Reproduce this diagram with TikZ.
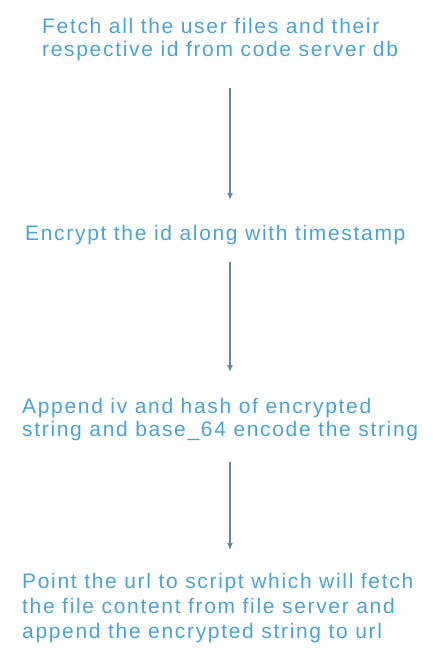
\documentclass[tikz,border=0pt]{standalone}
\usepackage{fontspec}
\setmainfont{Liberation Sans}[LetterSpace=8]
\usetikzlibrary{arrows.meta}

\definecolor{flowtext}{RGB}{74,163,216}
\definecolor{flowline}{RGB}{104,134,160}

\tikzset{
  steptext/.style={anchor=north west, inner sep=0pt, align=left, text=flowtext,
    font=\fontsize{21}{23}\selectfont},
  steparrow/.style={draw=flowline, line width=1.2pt, -{Latex[length=7pt,width=6pt]}}
}

\begin{document}
\begin{tikzpicture}[x=1pt, y=-1pt]
    % Page frame, same size as the reference
    \useasboundingbox (0,0) rectangle (433,659);
    \coordinate (arrx) at (230,0);

    % --- Step 1: fetch files ---
    \node[steptext] (fetch) at (42,17.7) {Fetch all the user files and their\\respective id from code server db};

    % --- Step 2: encrypt ---
    \node[steptext] (encrypt) at (25,225.5) {Encrypt the id along with timestamp};

    % --- Step 3: append and encode ---
    \node[steptext] (append) at (22,398.5) {Append iv and hash of encrypted\\string and base\_64 encode the string};

    % --- Step 4: point the url ---
    \node[steptext, font=\fontsize{21}{25}\selectfont] (point) at (22,573.5) {Point the url to script which will fetch\\the file content from file server and\\append the encrypted string to url};

    % Arrows between the steps
    \draw[steparrow] ([yshift=-27.6pt] fetch.south -| arrx) -- ([yshift=25.5pt] encrypt.north -| arrx);
    \draw[steparrow] ([yshift=-16.6pt] encrypt.south -| arrx) -- ([yshift=26.5pt] append.north -| arrx);
    \draw[steparrow] ([yshift=-20.6pt] append.south -| arrx) -- ([yshift=23.5pt] point.north -| arrx);
\end{tikzpicture}
\end{document}
